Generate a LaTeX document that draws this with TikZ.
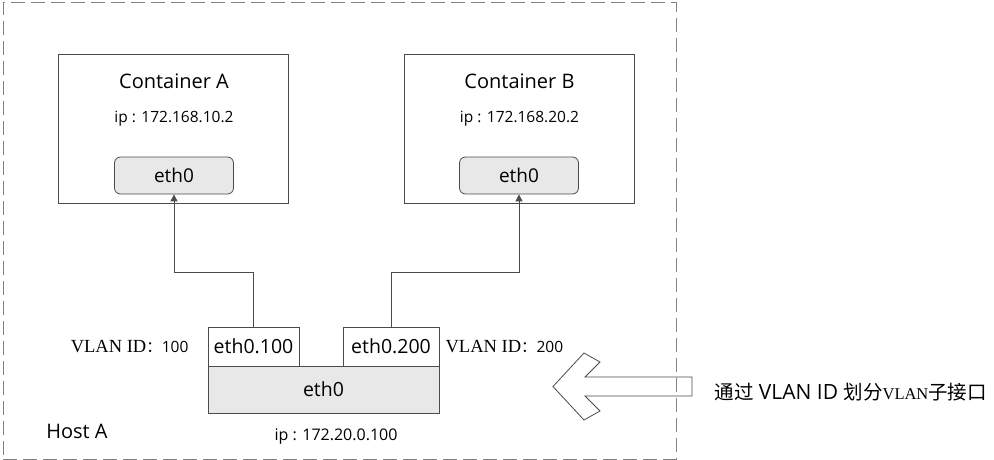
\documentclass[tikz,border=0pt]{standalone}
\usepackage{fontspec}
\setmainfont{Open Sans}
\newfontfamily\cjk{Noto Sans CJK SC}
\newfontfamily\vlanserif{Liberation Serif}
\usetikzlibrary{positioning,arrows.meta}
\definecolor{hostgray}{RGB}{130,130,130}
\definecolor{linegray}{RGB}{75,75,75}
\definecolor{ethfill}{RGB}{232,232,232}

\begin{document}
\begin{tikzpicture}[x=1pt, y=-1pt,
    hostbox/.style={rectangle, draw=hostgray, line width=1pt, dash pattern=on 14pt off 6pt, minimum width=673pt, minimum height=456pt},
    container/.style={rectangle, draw=linegray, line width=0.8pt, minimum width=230pt, minimum height=149pt},
    ethbox/.style={rectangle, draw=linegray, fill=ethfill, line width=0.8pt, rounded corners=6pt, minimum width=119pt, minimum height=37pt, font=\fontsize{19}{22}\selectfont},
    subif/.style={rectangle, draw=linegray, fill=white, line width=0.8pt, minimum height=39pt, inner sep=0pt, font=\fontsize{19.5}{22}\selectfont},
    hostif/.style={rectangle, draw=linegray, fill=ethfill, line width=0.8pt, minimum width=231pt, minimum height=47pt, font=\fontsize{19.5}{22}\selectfont},
    title/.style={font=\fontsize{20}{23}\selectfont},
    iptext/.style={font=\fontsize{15.5}{18}\selectfont},
    vlantext/.style={inner sep=0pt, font=\fontsize{15.5}{18}\selectfont},
    arrow/.style={-{Triangle[width=7pt,length=7pt]}, linegray, line width=0.9pt}
]
    \useasboundingbox (0,0) rectangle (994,460);
    \node[hostbox] (host) at (339.5,231) {};

    \node[container] (contA) at (173.5,128.5) {};
    \node[container] (contB) at (519.5,128.5) {};
    \node[title] (titleA) at (174,81) {Container A};
    \node[title] (titleB) at (519.5,81) {Container B};
    \node[iptext] (ipA) at (174,119) {ip : 172.168.10.2};
    \node[iptext] (ipB) at (519.5,119) {ip : 172.168.20.2};
    \node[ethbox] (ethA) at (174,175.5) {eth0};
    \node[ethbox] (ethB) at (519,175.5) {eth0};

    \node[subif, minimum width=91pt] (eth100) at (253.5,346.5) {eth0.100};
    \node[subif, minimum width=96pt] (eth200) at (391,346.5) {eth0.200};
    \node[hostif] (hosteth) at (323.5,389.5) {eth0};

    \node[vlantext, left=19pt of eth100] (vlanA) {{\vlanserif\fontsize{18.5}{21}\selectfont VLAN ID}{\cjk ：}100};
    \node[vlantext, right=6pt of eth200] (vlanB) {{\vlanserif\fontsize{18.5}{21}\selectfont VLAN ID}{\cjk ：}200};
    \node[title] (hostA) at (77,431) {Host A};
    \node[iptext, font=\fontsize{16}{19}\selectfont] (iphost) at (336,437) {ip : 172.20.0.100};

    \draw[arrow] (eth100.north) -- ++(0,-54) -| (ethA.south);
    \draw[arrow] (eth200.north) -- ++(0,-54) -| (ethB.south);

    \draw[linegray, line width=0.8pt] (553,386.5) -- (584,353) -- (600,362) -- (585,377)
        -- (692,377) -- (692,396) -- (585,396) -- (600,411) -- (584,420) -- cycle;
    \node[anchor=west, font=\fontsize{21}{24}\selectfont] (note) at (711,392)
        {{\cjk\fontsize{19.5}{22}\selectfont 通过} VLAN ID {\cjk\fontsize{19.5}{22}\selectfont 划分}{\vlanserif\fontsize{16.5}{19}\selectfont VLAN}{\cjk\fontsize{19.5}{22}\selectfont 子接口}};
\end{tikzpicture}
\end{document}
